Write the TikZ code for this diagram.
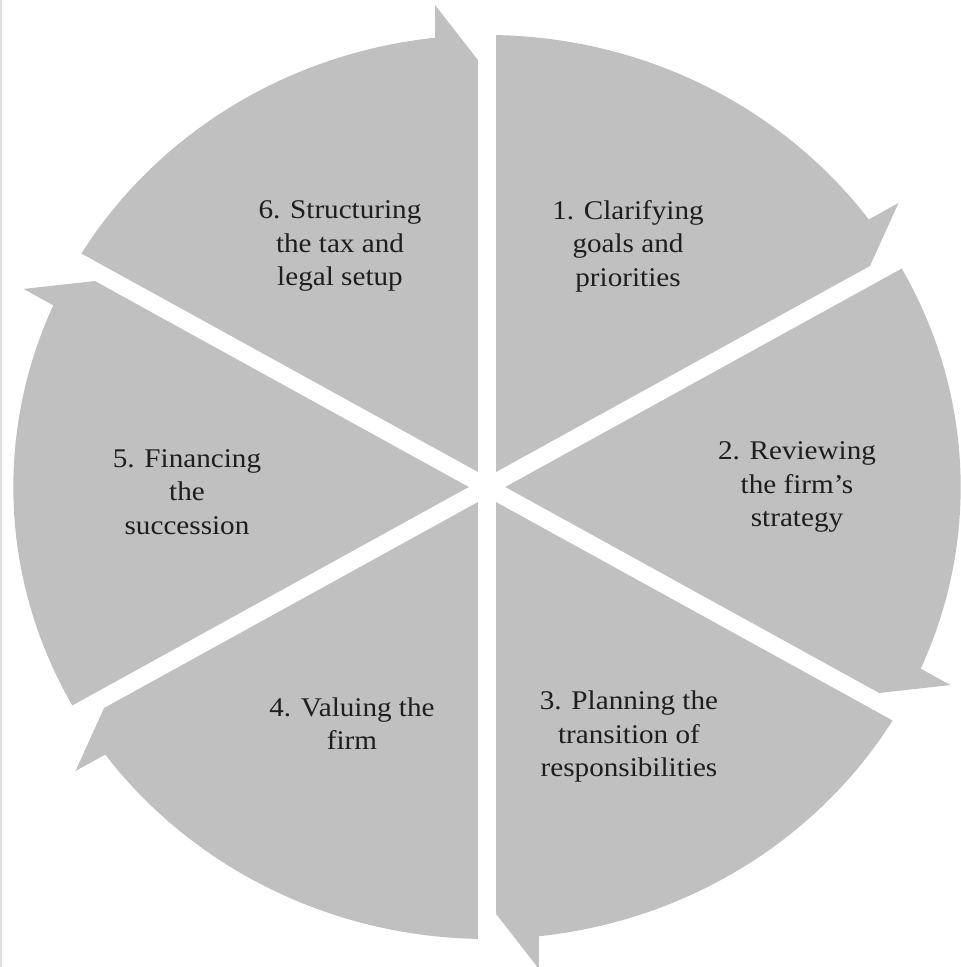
\documentclass[tikz,border=0pt]{standalone}
\usepackage{fontspec}
\setmainfont[FakeStretch=1.08]{Liberation Serif}
\definecolor{segfill}{RGB}{192,192,192}
\definecolor{labelink}{RGB}{30,30,30}
\begin{document}
\begin{tikzpicture}[x=1pt,y=1pt,
  segment/.style={fill=segfill, draw=none},
  steplabel/.style={align=center, text=labelink, inner sep=0pt,
    font=\fontsize{27}{33.5}\selectfont}]
\useasboundingbox (0,0) rectangle (961,967);
\draw[black!12, line width=1.5pt] (0.75,0) -- (0.75,967);
% half of the gap between segments, outer radius
\def\hg{8.7}
\def\rad{452}
% six wedges, each ending in an arrow barb at its clockwise edge
\begin{scope}[shift={(487,480)}, xscale=1.048]
  \foreach \r in {0,-60,-120,-180,-240,-300} {
    \fill[segment, rotate=\r]
      (-\hg,{1.732*\hg}) -- (-\hg,427) -- (-49.6,482) -- (96.3:\rad)
      arc[start angle=96.3, end angle=148.9, radius=\rad] -- cycle;
  }
\end{scope}
% step labels
\node[steplabel] (s1) at (628,721) {1. Clarifying\\goals and\\priorities};
\node[steplabel] (s2) at (797,480) {2. Reviewing\\the firm’s\\strategy};
\node[steplabel] (s3) at (629,230) {3. Planning the\\transition of\\responsibilities};
\node[steplabel] (s4) at (352,243.5) {4. Valuing the\\firm};
\node[steplabel] (s5) at (187,475) {5. Financing\\the\\succession};
\node[steplabel] (s6) at (340,721) {6. Structuring\\the tax and\\legal setup};
\end{tikzpicture}
\end{document}
